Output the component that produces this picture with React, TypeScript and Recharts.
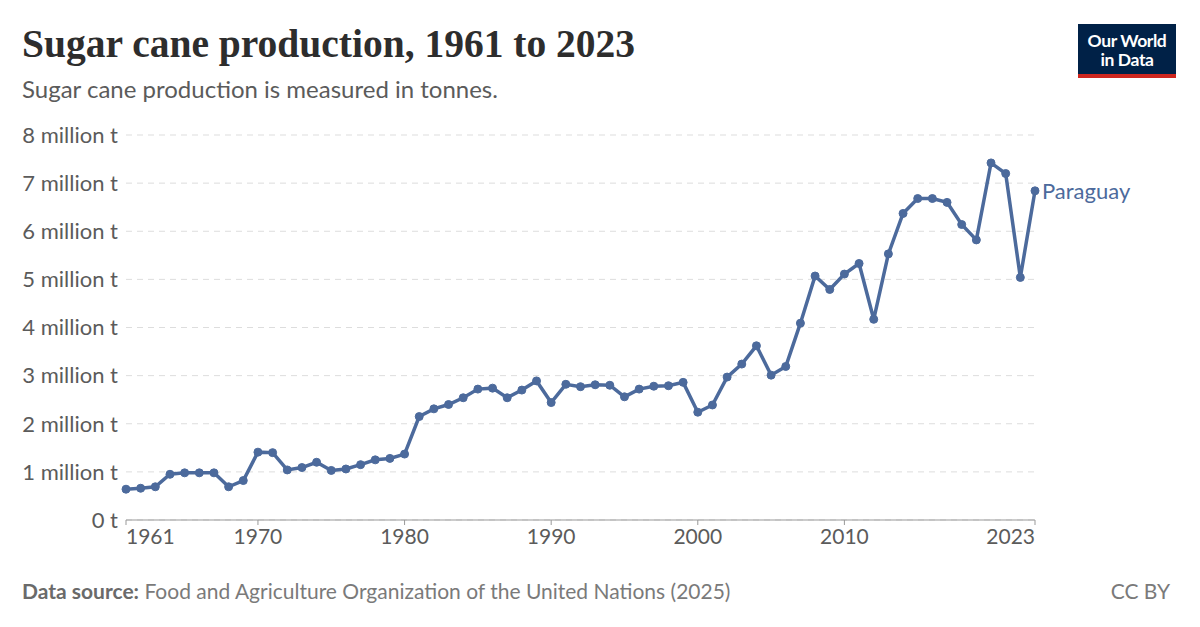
import { CartesianGrid, Line, LineChart, XAxis, YAxis } from "recharts";

const years = [
  1961, 1962, 1963, 1964, 1965, 1966, 1967, 1968, 1969, 1970, 1971, 1972, 1973,
  1974, 1975, 1976, 1977, 1978, 1979, 1980, 1981, 1982, 1983, 1984, 1985, 1986,
  1987, 1988, 1989, 1990, 1991, 1992, 1993, 1994, 1995, 1996, 1997, 1998, 1999,
  2000, 2001, 2002, 2003, 2004, 2005, 2006, 2007, 2008, 2009, 2010, 2011, 2012,
  2013, 2014, 2015, 2016, 2017, 2018, 2019, 2020, 2021, 2022, 2023,
];

// million tonnes
const paraguay = [
  0.64, 0.66, 0.69, 0.95, 0.98, 0.98, 0.98, 0.69, 0.82, 1.41, 1.4, 1.04, 1.09,
  1.2, 1.03, 1.06, 1.15, 1.25, 1.28, 1.37, 2.15, 2.31, 2.4, 2.54, 2.72, 2.74,
  2.54, 2.7, 2.89, 2.44, 2.82, 2.77, 2.81, 2.8, 2.56, 2.72, 2.78, 2.79, 2.86,
  2.24, 2.39, 2.97, 3.24, 3.62, 3.01, 3.19, 4.09, 5.07, 4.79, 5.11, 5.33, 4.17,
  5.53, 6.37, 6.68, 6.68, 6.6, 6.14, 5.82, 7.42, 7.2, 5.04, 6.84,
];

const xTicks = [1961, 1970, 1980, 1990, 2000, 2010, 2023];
const yTicks = [0, 1e6, 2e6, 3e6, 4e6, 5e6, 6e6, 7e6, 8e6];

const data = years.map((year, i) => ({ year, value: paraguay[i] * 1e6 }));

const LINE = "#4C6A9C";
const TEXT = "#5b5b5b";
const FONT = "Lato, 'Noto Sans', sans-serif";

function fmtY(v: number) {
  return v === 0 ? "0 t" : `${v / 1e6} million t`;
}

function XTick(props: any) {
  const { x, y, payload } = props;
  const v = payload.value;
  const anchor = v === 1961 ? "start" : v === 2023 ? "end" : "middle";
  return (
    <text
      x={x}
      y={y}
      dy={17}
      textAnchor={anchor}
      fill={TEXT}
      fontSize={21}
      fontFamily={FONT}
    >
      {v}
    </text>
  );
}

function EndLabel(props: any) {
  const { x, y, index } = props;
  if (index !== data.length - 1) return null;
  return (
    <text x={x + 7} y={y} dy={8} fill={LINE} fontSize={22} fontFamily={FONT}>
      Paraguay
    </text>
  );
}

export default function App() {
  return (
    <div
      style={{
        position: "absolute",
        left: 0,
        top: 0,
        width: 1200,
        height: 627,
        background: "#fff",
        fontFamily: FONT,
      }}
    >
      <LineChart
        width={1200}
        height={627}
        data={data}
        margin={{ top: 135, right: 165, bottom: 77, left: 0 }}
      >
        <CartesianGrid
          vertical={false}
          strokeDasharray="6 5"
          stroke="#dddddd"
        />
        <XAxis
          dataKey="year"
          type="number"
          domain={[1961, 2023]}
          ticks={xTicks}
          height={30}
          interval={0}
          axisLine={{ stroke: "#999" }}
          tickLine={{ stroke: "#999" }}
          tickSize={5}
          tick={<XTick />}
        />
        <YAxis
          type="number"
          domain={[0, 8e6]}
          ticks={yTicks}
          width={126}
          axisLine={false}
          tickLine={false}
          tickSize={0}
          tickMargin={8}
          tickFormatter={fmtY}
          tick={{ fontSize: 22, fill: TEXT, fontFamily: FONT }}
        />
        <Line
          dataKey="value"
          stroke={LINE}
          strokeWidth={3.5}
          dot={{ r: 4, fill: LINE, stroke: LINE, strokeWidth: 1 }}
          isAnimationActive={false}
          label={<EndLabel />}
        />
      </LineChart>

      <div
        style={{
          position: "absolute",
          left: 22,
          top: 21,
          fontFamily: "'Liberation Serif', serif",
          fontWeight: 700,
          fontSize: 39.5,
          color: "#2d2d2d",
          whiteSpace: "nowrap",
        }}
      >
        Sugar cane production, 1961 to 2023
      </div>
      <div
        style={{
          position: "absolute",
          left: 22,
          top: 74,
          fontSize: 24,
          color: TEXT,
        }}
      >
        Sugar cane production is measured in tonnes.
      </div>

      <div
        style={{
          position: "absolute",
          left: 1078,
          top: 24,
          width: 98,
          height: 54,
          background: "#002147",
          borderBottom: "4px solid #ce261e",
          boxSizing: "border-box",
          color: "#fff",
          fontSize: 17.5,
          fontWeight: 700,
          lineHeight: "19px",
          textAlign: "center",
          paddingTop: 7,
          letterSpacing: -0.4,
        }}
      >
        Our World
        <br />
        in Data
      </div>

      <div
        style={{
          position: "absolute",
          left: 22,
          top: 578,
          fontSize: 21,
          color: "#7a7a7a",
          whiteSpace: "nowrap",
        }}
      >
        <b style={{ color: "#6a6a6a" }}>Data source:</b> Food and Agriculture
        Organization of the United Nations (2025)
      </div>
      <div
        style={{
          position: "absolute",
          right: 30,
          top: 578,
          fontSize: 21,
          color: "#7a7a7a",
        }}
      >
        CC BY
      </div>
    </div>
  );
}
